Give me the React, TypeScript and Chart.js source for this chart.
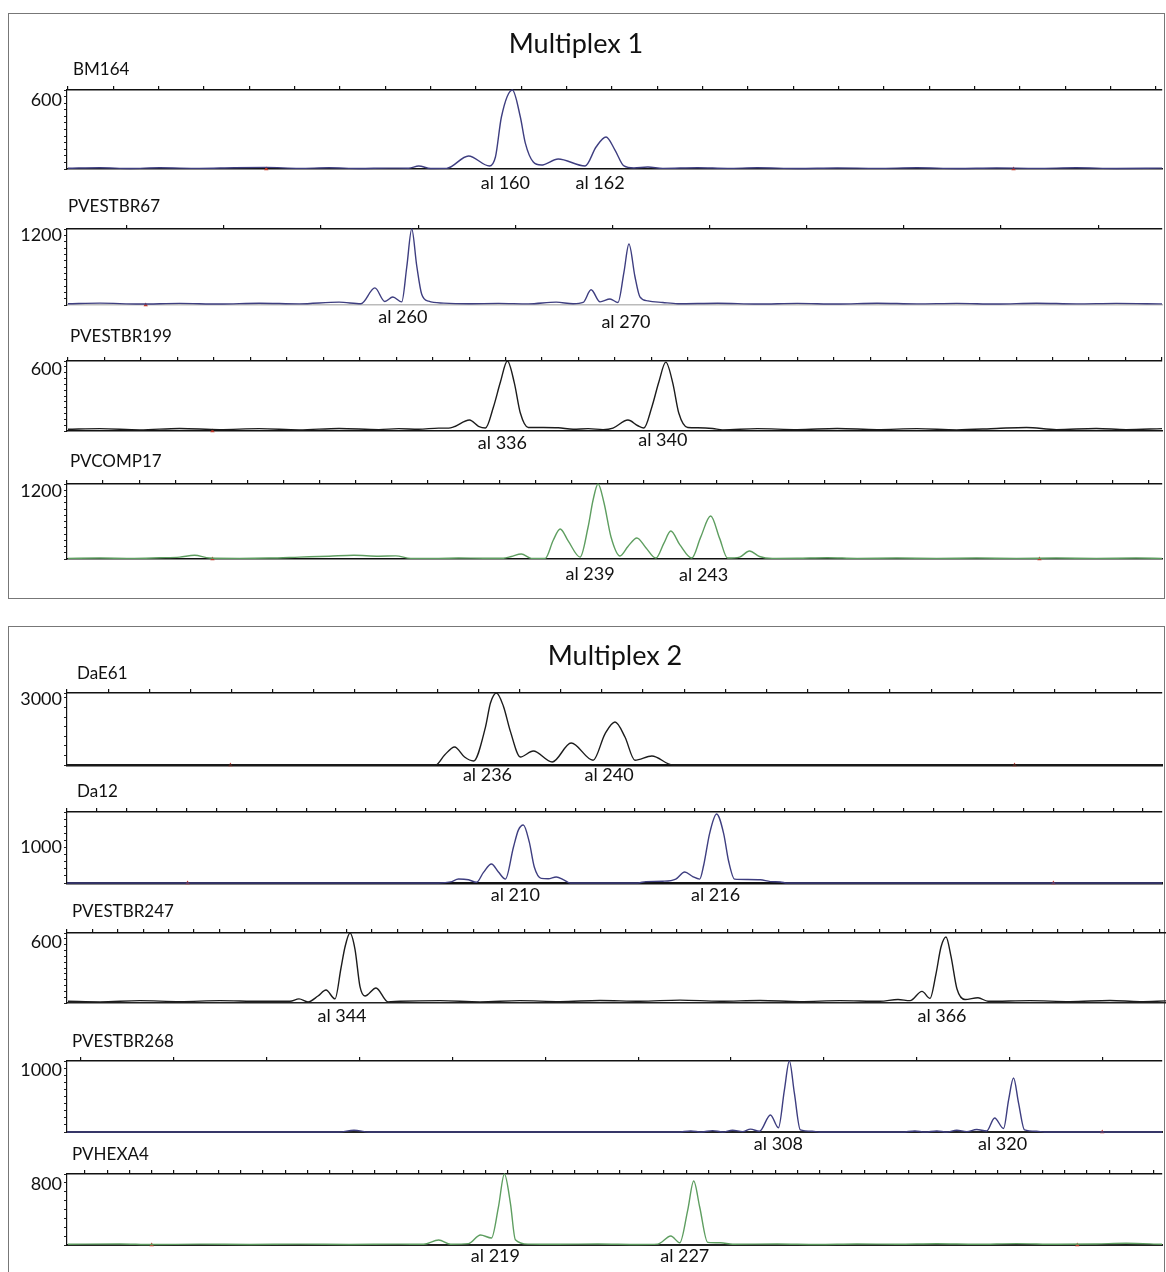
import React, { useEffect, useRef } from "react";
import { Chart, registerables } from "chart.js";

Chart.register(...registerables);
Chart.defaults.font.family = "Lato, 'Open Sans', sans-serif";

// ---------------- DATA ----------------
// x values are in scan units (0..1099), y values in RFU
const trackNames = ["BM164", "PVESTBR67", "PVESTBR199", "PVCOMP17", "DaE61", "Da12", "PVESTBR247", "PVESTBR268", "PVHEXA4"];
const panelTitles = ["Multiplex 1", "Multiplex 2"];
const yMaxValues = [600, 1200, 600, 1200, 3000, 2000, 600, 1000, 800];
const yLabelValues = [600, 1200, 600, 1200, 3000, 1000, 600, 1000, 800];
const yMinorSteps = [50, 100, 50, 100, 400, 200, 50, 100, 100];
const xTickStarts = [1, 60, 1, 0, 0, 0, 0, 14, 18];
const xTickSteps = [45.5, 97.5, 36.6, 36.2, 41.3, 30, 25.4, 93.2, 22.35];
const X_MAX = 1099;

const bm164X = [1, 33, 63, 93, 133, 168, 200, 233, 263, 293, 323, 343, 353, 365, 381, 403, 424, 430, 436, 447, 455, 460, 468, 476, 493, 520, 531, 541, 550, 559, 569, 583, 598, 633, 663, 693, 733, 773, 813, 853, 893, 933, 973, 1013, 1053, 1099];
const bm164Y = [6, 10, 4, 9, 5, 10, 12, 5, 9, 4, 7, 6, 23, 4, 5, 99, 23, 91, 395, 600, 395, 197, 53, 30, 76, 23, 167, 243, 144, 23, 8, 15, 5, 10, 5, 9, 4, 8, 5, 9, 4, 8, 5, 9, 4, 7];

const pvestbr67X = [1, 33, 73, 113, 153, 193, 233, 273, 295, 309, 319, 327, 336, 341, 346, 351, 356, 363, 378, 403, 433, 463, 491, 508, 518, 526, 535, 545, 553, 559, 564, 570, 575, 583, 598, 613, 653, 693, 733, 773, 813, 853, 893, 933, 973, 1013, 1053, 1099];
const pvestbr67Y = [20, 30, 15, 25, 15, 28, 18, 45, 20, 270, 55, 126, 50, 600, 1200, 620, 170, 60, 30, 20, 25, 18, 45, 20, 40, 240, 50, 95, 40, 520, 963, 450, 130, 65, 40, 20, 28, 15, 25, 15, 28, 18, 25, 15, 28, 18, 25, 18];

const pvestbr199X = [1, 33, 73, 113, 153, 193, 233, 273, 313, 333, 353, 373, 383, 388, 404, 413, 420, 428, 435, 442, 449, 455, 463, 478, 493, 508, 523, 538, 548, 563, 573, 579, 587, 594, 601, 608, 614, 623, 633, 648, 658, 693, 733, 773, 813, 853, 893, 933, 963, 993, 1033, 1063, 1099];
const pvestbr199Y = [15, 20, 10, 22, 12, 20, 10, 22, 12, 20, 15, 25, 25, 35, 94, 40, 26, 206, 420, 600, 411, 154, 30, 30, 28, 15, 20, 12, 25, 94, 45, 26, 206, 420, 590, 411, 154, 30, 28, 22, 10, 20, 12, 22, 12, 20, 10, 22, 30, 12, 22, 12, 20];

const pvcomp17X = [1, 33, 63, 93, 113, 128, 143, 173, 203, 233, 263, 288, 313, 330, 345, 373, 393, 418, 438, 446, 456, 466, 480, 488, 495, 503, 515, 523, 528, 533, 539, 546, 555, 563, 572, 581, 591, 599, 606, 615, 627, 636, 646, 655, 663, 675, 685, 695, 708, 733, 763, 793, 833, 873, 913, 953, 993, 1033, 1073, 1099];
const pvcomp17Y = [10, 15, 10, 20, 30, 60, 15, 10, 15, 30, 45, 60, 45, 50, 10, 10, 15, 12, 12, 40, 80, 10, 10, 300, 480, 290, 30, 512, 944, 1200, 896, 352, 48, 200, 336, 180, 15, 250, 448, 230, 15, 350, 688, 330, 15, 30, 128, 40, 10, 12, 20, 10, 15, 10, 15, 10, 15, 10, 15, 10];

const dae61X = [0, 353, 370, 379, 389, 399, 408, 420, 425, 431, 438, 445, 455, 468, 487, 506, 528, 540, 550, 560, 570, 587, 608, 633, 1099];
const dae61Y = [0, 0, 0, 417, 750, 333, 167, 1580, 2580, 3000, 2450, 1400, 333, 583, 125, 917, 200, 1300, 1792, 1167, 200, 375, 0, 0, 0];

const da12X = [0, 373, 385, 393, 403, 411, 418, 426, 433, 440, 448, 453, 458, 464, 469, 476, 483, 491, 499, 505, 573, 581, 598, 611, 620, 628, 635, 639, 645, 652, 659, 664, 670, 683, 696, 706, 716, 723, 1099];
const da12Y = [0, 0, 30, 113, 90, 20, 300, 535, 310, 110, 1000, 1490, 1634, 1150, 450, 130, 120, 170, 80, 0, 0, 40, 50, 110, 310, 180, 110, 500, 1400, 1944, 1400, 620, 110, 100, 90, 40, 30, 0, 0];

const pvestbr247X = [1, 33, 73, 113, 153, 193, 223, 232, 241, 251, 259, 268, 274, 278, 283, 288, 293, 298, 309, 321, 333, 373, 413, 453, 493, 533, 573, 613, 653, 693, 733, 773, 813, 831, 843, 855, 863, 869, 874, 879, 884, 890, 898, 911, 921, 963, 1003, 1043, 1073, 1099];
const pvestbr247Y = [15, 10, 20, 12, 20, 15, 15, 35, 10, 60, 111, 35, 300, 480, 600, 460, 140, 60, 129, 10, 15, 20, 10, 20, 12, 22, 15, 25, 15, 22, 12, 20, 15, 30, 20, 100, 40, 250, 480, 566, 400, 120, 30, 45, 15, 20, 12, 22, 12, 18];

const pvestbr268X = [0, 273, 288, 303, 613, 626, 637, 648, 658, 668, 678, 686, 695, 706, 714, 720, 725, 730, 736, 748, 755, 838, 851, 861, 873, 883, 893, 903, 913, 923, 931, 940, 945, 950, 955, 961, 973, 981, 1099];
const pvestbr268Y = [0, 0, 25, 0, 0, 15, 0, 20, 0, 25, 5, 40, 10, 240, 60, 590, 1000, 550, 30, 10, 0, 0, 15, 0, 15, 0, 25, 5, 35, 15, 197, 50, 450, 760, 410, 30, 10, 0, 0];

const pvhexa4X = [1, 53, 85, 133, 183, 233, 283, 333, 358, 373, 385, 403, 415, 426, 433, 439, 445, 450, 463, 493, 533, 573, 593, 606, 615, 623, 629, 635, 643, 656, 668, 713, 753, 793, 833, 873, 913, 953, 993, 1033, 1063, 1099];
const pvhexa4Y = [8, 12, 5, 10, 6, 10, 6, 10, 8, 56, 8, 15, 113, 79, 428, 800, 473, 60, 10, 8, 12, 6, 10, 101, 25, 394, 721, 428, 30, 25, 8, 12, 6, 12, 8, 14, 8, 15, 8, 12, 20, 8];

const traceX = [bm164X, pvestbr67X, pvestbr199X, pvcomp17X, dae61X, da12X, pvestbr247X, pvestbr268X, pvhexa4X];
const traceY = [bm164Y, pvestbr67Y, pvestbr199Y, pvcomp17Y, dae61Y, da12Y, pvestbr247Y, pvestbr268Y, pvhexa4Y];

const alleleLabels = [
  ["al 160", "al 162"], ["al 260", "al 270"], ["al 336", "al 340"], ["al 239", "al 243"],
  ["al 236", "al 240"], ["al 210", "al 216"], ["al 344", "al 366"], ["al 308", "al 320"], ["al 219", "al 227"],
];
const allelePositions = [
  [440, 535], [337, 561], [437, 598], [525, 639], [422, 544], [450, 651], [275, 875], [714, 939], [430, 620],
];
const markerPositions = [[200, 950], [79], [146], [146, 976], [164, 951], [121, 990], [], [1039], [85, 1014]];

// ---------------- LAYOUT / STYLE ----------------
const NAVY = "#3e3e80";
const BLACK = "#1c1c1c";
const GREEN = "#5e9e60";
const traceColors = [NAVY, NAVY, BLACK, GREEN, BLACK, NAVY, BLACK, NAVY, GREEN];
const topLines = [90, 229, 361, 484, 693, 812, 933, 1061, 1174];
const baseLines = [169, 305, 431, 559, 765, 883, 1003, 1132, 1245];
const nameXs = [73, 68, 70, 70, 77, 77, 72, 72, 72];
const nameYs = [70, 207, 337, 462, 674, 792, 912, 1042, 1155];
const yLabelShifts = [10, 6, 8, 7, 6, 0, 9, 9, 10];
const alleleDys = [[14, 14], [12, 17], [12, 9], [15, 16], [10, 10], [12, 12], [13, 13], [12, 12], [11, 11]];
const baseColors = ["#111", "#bbb", "#111", "#111", "#111", "#111", "#222", "#222", "#222"];
const baseWidths = [1.5, 1.5, 1.5, 1.5, 2.6, 2.4, 1.6, 2, 2];
const titleSpecs: Record<number, { text: string; cx: number; baseline: number; canvasTop: number }> = {
  0: { text: panelTitles[0], cx: 576, baseline: 53, canvasTop: 20 },
  4: { text: panelTitles[1], cx: 615, baseline: 665, canvasTop: 630 },
};
const LEFT = 67;
const WIDTH = 1166;

function range(start: number, end: number, step: number) {
  const out: number[] = [];
  for (let v = start; v <= end + 1e-6; v += step) out.push(Math.round(v * 100) / 100);
  return out;
}

function Track({ i }: { i: number }) {
  const ref = useRef<HTMLCanvasElement>(null);
  const title = titleSpecs[i];
  const canvasTop = title ? title.canvasTop : nameYs[i] - 14;
  const height = baseLines[i] + 30 - canvasTop;

  useEffect(() => {
    const yMax = yMaxValues[i];
    const yTicks = range(0, yMax, yMinorSteps[i]);
    if (yTicks[yTicks.length - 1] !== yMax) yTicks.push(yMax);
    const xTicks = range(xTickStarts[i], X_MAX, xTickSteps[i]);
    const pts = traceX[i].map((x, k) => ({ x, y: traceY[i][k] }));
    const marks = markerPositions[i].map((x) => ({ x, y: 0 }));

    const textPlugin = {
      id: "trackTexts" + i,
      afterDraw(chart: any) {
        const { ctx, chartArea, scales } = chart;
        ctx.save();
        ctx.fillStyle = "#111";
        ctx.font = "17px Lato";
        ctx.textBaseline = "middle";
        ctx.textAlign = "left";
        ctx.fillText(trackNames[i], nameXs[i], nameYs[i] - canvasTop);
        ctx.font = "18px Lato";
        ctx.textAlign = "center";
        alleleLabels[i].forEach((lab, k) => {
          ctx.fillText(lab, scales.x.getPixelForValue(allelePositions[i][k]), chartArea.bottom + alleleDys[i][k]);
        });
        if (title) {
          ctx.font = "27px Lato";
          ctx.textBaseline = "alphabetic";
          ctx.fillText(title.text, title.cx, title.baseline - canvasTop);
        }
        ctx.restore();
      },
    };

    const chart = new Chart(ref.current as HTMLCanvasElement, {
      type: "line",
      data: {
        datasets: [
          {
            data: pts,
            borderColor: traceColors[i],
            borderWidth: 1.4,
            pointRadius: 0,
            cubicInterpolationMode: "monotone",
            fill: false,
            clip: false,
          } as any,
          {
            data: marks,
            showLine: false,
            pointStyle: "triangle",
            pointRadius: 2.5,
            backgroundColor: "#c0392b",
            borderColor: "#c0392b",
            borderWidth: 0,
            clip: false,
          } as any,
        ],
      },
      options: {
        responsive: false,
        animation: false,
        devicePixelRatio: 1,
        events: [],
        layout: { padding: { top: topLines[i] - canvasTop - 4, bottom: height - (baseLines[i] - canvasTop), left: 0, right: 0 } },
        plugins: { legend: { display: false }, tooltip: { enabled: false } },
        scales: {
          x: {
            type: "linear",
            position: "top",
            min: 0,
            max: X_MAX,
            afterBuildTicks: (axis: any) => {
              axis.ticks = xTicks.map((v) => ({ value: v }));
            },
            afterFit: (axis: any) => {
              axis.height = 4;
            },
            ticks: { display: false, autoSkip: false },
            grid: { drawOnChartArea: false, drawTicks: true, tickLength: 4, color: "#111", lineWidth: 1.2 },
            border: { display: true, color: "#111", width: 1.5 },
          },
          x2: {
            type: "linear",
            position: "bottom",
            min: 0,
            max: X_MAX,
            afterFit: (axis: any) => {
              axis.height = 0;
            },
            ticks: { display: false },
            grid: { display: false },
            border: { display: true, color: baseColors[i], width: baseWidths[i] },
          },
          y: {
            type: "linear",
            position: "left",
            min: 0,
            max: yMax,
            afterBuildTicks: (axis: any) => {
              axis.ticks = yTicks.map((v) => ({ value: v }));
            },
            afterFit: (axis: any) => {
              axis.width = LEFT;
            },
            ticks: {
              autoSkip: false,
              padding: 2,
              labelOffset: yLabelShifts[i],
              color: "#111",
              font: { family: "Lato", size: 18 },
              callback: (v: any) => (v === yLabelValues[i] ? String(v) : ""),
            },
            grid: { drawOnChartArea: false, drawTicks: true, tickLength: 3, color: "#222", lineWidth: 1 },
            border: { display: true, color: "#111", width: 1.2 },
          },
        },
      } as any,
      plugins: [textPlugin],
    });
    return () => chart.destroy();
  }, []);

  return (
    <canvas
      ref={ref}
      width={WIDTH}
      height={height}
      style={{ position: "absolute", left: 0, top: canvasTop, width: WIDTH, height }}
    />
  );
}

export default function App() {
  return (
    <div style={{ position: "absolute", left: 0, top: 0, width: 1166, height: 1272, background: "#fff", overflow: "hidden" }}>
      <div style={{ position: "absolute", left: 8, top: 13, width: 1157, height: 586, border: "1px solid #777", boxSizing: "border-box" }} />
      <div style={{ position: "absolute", left: 8, top: 626, width: 1157, height: 700, border: "1px solid #777", boxSizing: "border-box" }} />
      {trackNames.map((n, i) => (
        <Track key={n} i={i} />
      ))}
    </div>
  );
}
